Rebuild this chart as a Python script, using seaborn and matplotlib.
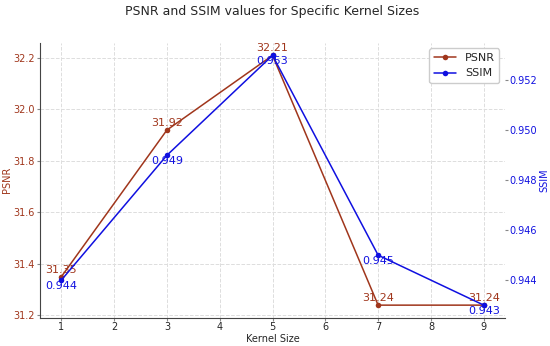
import matplotlib
matplotlib.use("Agg")
import matplotlib.pyplot as plt
import pandas as pd
import seaborn as sns

# Data
kernel_sizes = [1, 3, 5, 7, 9]
psnr_values = [31.35, 31.92, 32.21, 31.24, 31.24]
ssim_values = [0.944, 0.949, 0.953, 0.945, 0.943]

psnr_color = "#a0361c"
ssim_color = "#1010e0"

sns.set_style("white")
plt.rcParams["font.family"] = ["DejaVu Sans"]

df = pd.DataFrame({"Kernel Size": kernel_sizes, "PSNR": psnr_values, "SSIM": ssim_values})

fig, ax1 = plt.subplots(figsize=(5.5, 3.46), dpi=100)
fig.subplots_adjust(left=0.073, right=0.918, bottom=0.082, top=0.876)

sns.lineplot(data=df, x="Kernel Size", y="PSNR", ax=ax1, color=psnr_color,
             marker="o", markersize=4, markeredgewidth=0, linewidth=1.1, label="PSNR", legend=False)
ax2 = ax1.twinx()
sns.lineplot(data=df, x="Kernel Size", y="SSIM", ax=ax2, color=ssim_color,
             marker="o", markersize=4, markeredgewidth=0, linewidth=1.1, label="SSIM", legend=False)

for k, v in zip(kernel_sizes, psnr_values):
    ax1.annotate(f"{v:.2f}", (k, v), xytext=(0, 1.5), textcoords="offset points",
                 ha="center", va="bottom", color=psnr_color, fontsize=8)
for k, v in zip(kernel_sizes, ssim_values):
    ax2.annotate(f"{v:.3f}", (k, v), xytext=(0, -0.5), textcoords="offset points",
                 ha="center", va="top", color=ssim_color, fontsize=8)

ax1.set_xticks(range(1, 10))
ax1.set_xlabel("Kernel Size", fontsize=7, labelpad=1)
ax1.set_ylabel("PSNR", color=psnr_color, fontsize=7, labelpad=1)
ax2.set_ylabel("SSIM", color=ssim_color, fontsize=7, labelpad=1)
ax1.set_yticks([31.2, 31.4, 31.6, 31.8, 32.0, 32.2])
ax2.set_yticks([0.944, 0.946, 0.948, 0.950, 0.952])
ax1.tick_params(axis="y", labelcolor=psnr_color, labelsize=7, length=2, pad=2,
                direction="out", color="#888888", left=True)
ax2.tick_params(axis="y", labelcolor=ssim_color, labelsize=7, length=2, pad=1.5,
                direction="out", color="#888888", right=True)
ax1.tick_params(axis="x", labelsize=7, length=2, pad=1.5, direction="out", color="#888888", bottom=True)

ax1.grid(True, linestyle="--", color="#dddddd", linewidth=0.7)
ax2.grid(False)
for side in ["top", "right"]:
    ax1.spines[side].set_visible(False)
    ax2.spines[side].set_visible(False)
ax2.spines["left"].set_visible(False)
ax2.spines["bottom"].set_visible(False)
ax1.spines["left"].set_color("#444444")
ax1.spines["bottom"].set_color("#444444")

h1, l1 = ax1.get_legend_handles_labels()
h2, l2 = ax2.get_legend_handles_labels()
ax1.legend(h1 + h2, l1 + l2, loc="upper right", fontsize=8, framealpha=1)

ax1.set_title("PSNR and SSIM values for Specific Kernel Sizes", fontsize=9, pad=20)

fig.savefig("out.png", dpi=100)
